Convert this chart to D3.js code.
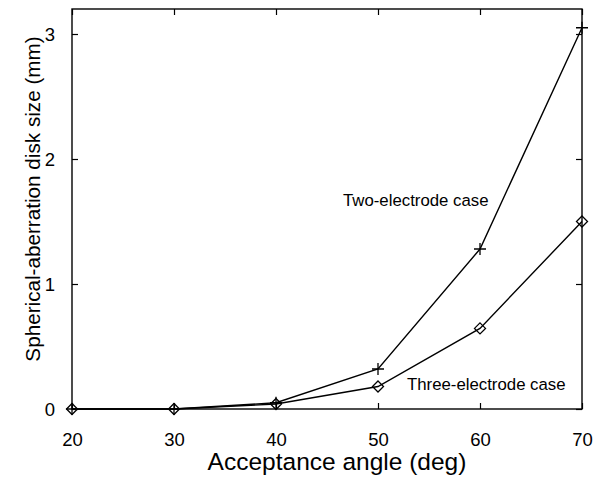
<!DOCTYPE html>
<html><head><meta charset="utf-8">
<script src="https://cdn.jsdelivr.net/npm/d3@7"></script>
<style>body{margin:0;background:#fff}svg{display:block}text{font-family:Arial,"Liberation Sans",sans-serif;fill:#000}</style>
</head><body><div id="chart"></div>
<script>
const angles = [20, 30, 40, 50, 60, 70];
const twoElectrode = [0.0, 0.0, 0.05, 0.32, 1.28, 3.05];
const threeElectrode = [0.0, 0.0, 0.04, 0.18, 0.645, 1.50];
const xTicks = [20, 30, 40, 50, 60, 70];
const yTicks = [0, 1, 2, 3];

const W = 602, H = 485;
const m = {left: 72, right: 20, top: 9, bottom: 76};
const svg = d3.select("#chart").append("svg").attr("width", W).attr("height", H);
const x = d3.scaleLinear().domain([20, 70]).range([m.left, W - m.right]);
const y = d3.scaleLinear().domain([0, 3.2]).range([H - m.bottom, m.top]);

const g = svg.append("g");
g.append("rect").attr("x", x(20)).attr("y", y(3.2)).attr("width", x(70) - x(20)).attr("height", y(0) - y(3.2))
  .attr("fill", "none").attr("stroke", "#000").attr("stroke-width", 1.4);

const ax = g.append("g").attr("transform", `translate(0,${y(0)})`)
  .call(d3.axisBottom(x).tickValues(xTicks).tickSize(-6).tickFormat(d3.format("d")));
ax.select(".domain").remove();
ax.selectAll("text").attr("font-size", 18.5).attr("dy", 0).attr("y", 37);
const axTop = g.append("g").attr("transform", `translate(0,${y(3.2)})`)
  .call(d3.axisTop(x).tickValues(xTicks).tickSize(-6).tickFormat(""));
axTop.select(".domain").remove();
const ay = g.append("g").attr("transform", `translate(${x(20)},0)`)
  .call(d3.axisLeft(y).tickValues(yTicks).tickSize(-6).tickFormat(d3.format("d")));
ay.select(".domain").remove();
ay.selectAll("text").attr("font-size", 18.5).attr("x", -17).attr("dy", "0.36em");
const ayR = g.append("g").attr("transform", `translate(${x(70)},0)`)
  .call(d3.axisRight(y).tickValues(yTicks).tickSize(-6).tickFormat(""));
ayR.select(".domain").remove();
g.selectAll(".tick line").attr("stroke", "#000").attr("stroke-width", 1.2);

const line = d3.line().x((d, i) => x(angles[i])).y(d => y(d));
[twoElectrode, threeElectrode].forEach(s => {
  g.append("path").datum(s).attr("d", line).attr("fill", "none").attr("stroke", "#000").attr("stroke-width", 1.4);
});
g.selectAll(".plus").data(twoElectrode).enter().append("path")
  .attr("d", (d, i) => { const cx = x(angles[i]), cy = y(d), r = 6; return `M${cx - r},${cy}H${cx + r}M${cx},${cy - r}V${cy + r}`; })
  .attr("stroke", "#000").attr("stroke-width", 1.3).attr("fill", "none");
g.selectAll(".dia").data(threeElectrode).enter().append("path")
  .attr("d", (d, i) => { const cx = x(angles[i]), cy = y(d), r = 5.5; return `M${cx},${cy - r}L${cx + r},${cy}L${cx},${cy + r}L${cx - r},${cy}Z`; })
  .attr("stroke", "#000").attr("stroke-width", 1.3).attr("fill", "none");

svg.append("text").attr("x", 343).attr("y", 206).attr("font-size", 16.8).text("Two-electrode case");
svg.append("text").attr("x", 407).attr("y", 390).attr("font-size", 16.8).text("Three-electrode case");

svg.append("text").attr("x", (x(20) + x(70)) / 2 + 10).attr("y", 470).attr("text-anchor", "middle").attr("font-size", 24.5).text("Acceptance angle (deg)");
svg.append("text").attr("transform", `translate(40,${(y(0) + y(3.2)) / 2 - 10}) rotate(-90)`).attr("text-anchor", "middle").attr("font-size", 20.7).text("Spherical-aberration disk size (mm)");
</script></body></html>
